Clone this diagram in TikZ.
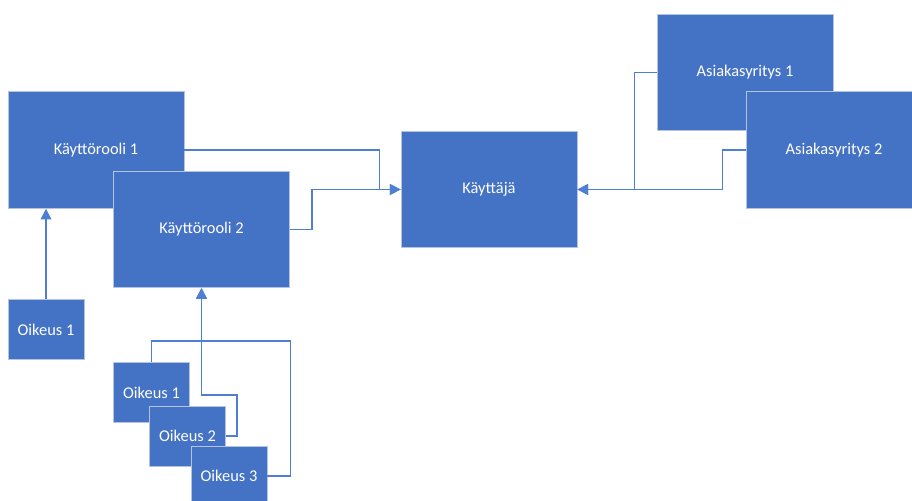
\documentclass[tikz,border=0pt]{standalone}
\usepackage{fontspec}
\setmainfont{Carlito}
\usepackage{tikz}
\usetikzlibrary{arrows.meta,positioning}
\definecolor{officeblue}{HTML}{4472C4}
\definecolor{edgeblue}{HTML}{B4C3E0}
\definecolor{lineblue}{HTML}{4F7FD2}

\begin{document}
\begin{tikzpicture}[
  x=0.75pt,y=-0.75pt,
  box/.style={draw=edgeblue,line width=0.6pt,fill=officeblue,text=white,
              font=\fontsize{12.3pt}{14pt}\selectfont,inner sep=0pt},
  bigbox/.style={box,minimum width=132pt,minimum height=87.5pt},
  smallbox/.style={box,minimum width=57pt,minimum height=45pt},
  arrow/.style={-{Triangle[length=8pt,width=8pt]},line width=1.1pt,draw=lineblue}
]
  \clip (0,0) rectangle (912,500);
  \fill[white] (0,0) rectangle (912,500);
  % roles and user
  \node[bigbox] (rooli1) at (96,150) {Käyttörooli 1};
  \node[bigbox] (rooli2) at (201.5,229.5) {Käyttörooli 2};
  \node[bigbox] (kayttaja) at (489,189.5) {Käyttäjä};
  \node[bigbox] (yritys1) at (745,72.5) {Asiakasyritys 1};
  \node[bigbox] (yritys2) at (834,150) {Asiakasyritys 2};
  % rights
  \node[smallbox] (oikeusA) at (46,329.5) {Oikeus 1};
  \node[smallbox] (oikeus1) at (151.5,392.5) {Oikeus 1};
  \node[smallbox] (oikeus2) at (187.5,436) {Oikeus 2};
  \node[smallbox] (oikeus3) at (229,476) {Oikeus 3};
  % connectors
  \draw[arrow] (rooli1.east) -- ++(195,0) |- (kayttaja.west);
  \draw[arrow] (rooli2.east) -- ++(22,0) |- (kayttaja.west);
  \draw[arrow] (yritys1.west) -- ++(-22,0) |- (kayttaja.east);
  \draw[arrow] (yritys2.west) -- ++(-23,0) |- (kayttaja.east);
  \draw[arrow] (oikeusA.north) -- (oikeusA.north |- rooli1.south);
  \draw[arrow] (oikeus1.north) -- ++(0,-21) -| (rooli2.south);
  \draw[arrow] (oikeus2.east) -- ++(11,0) -- ++(0,-41) -| (rooli2.south);
  \draw[arrow] (oikeus3.east) -- ++(23,0) -- ++(0,-135) -| (rooli2.south);
\end{tikzpicture}
\end{document}
